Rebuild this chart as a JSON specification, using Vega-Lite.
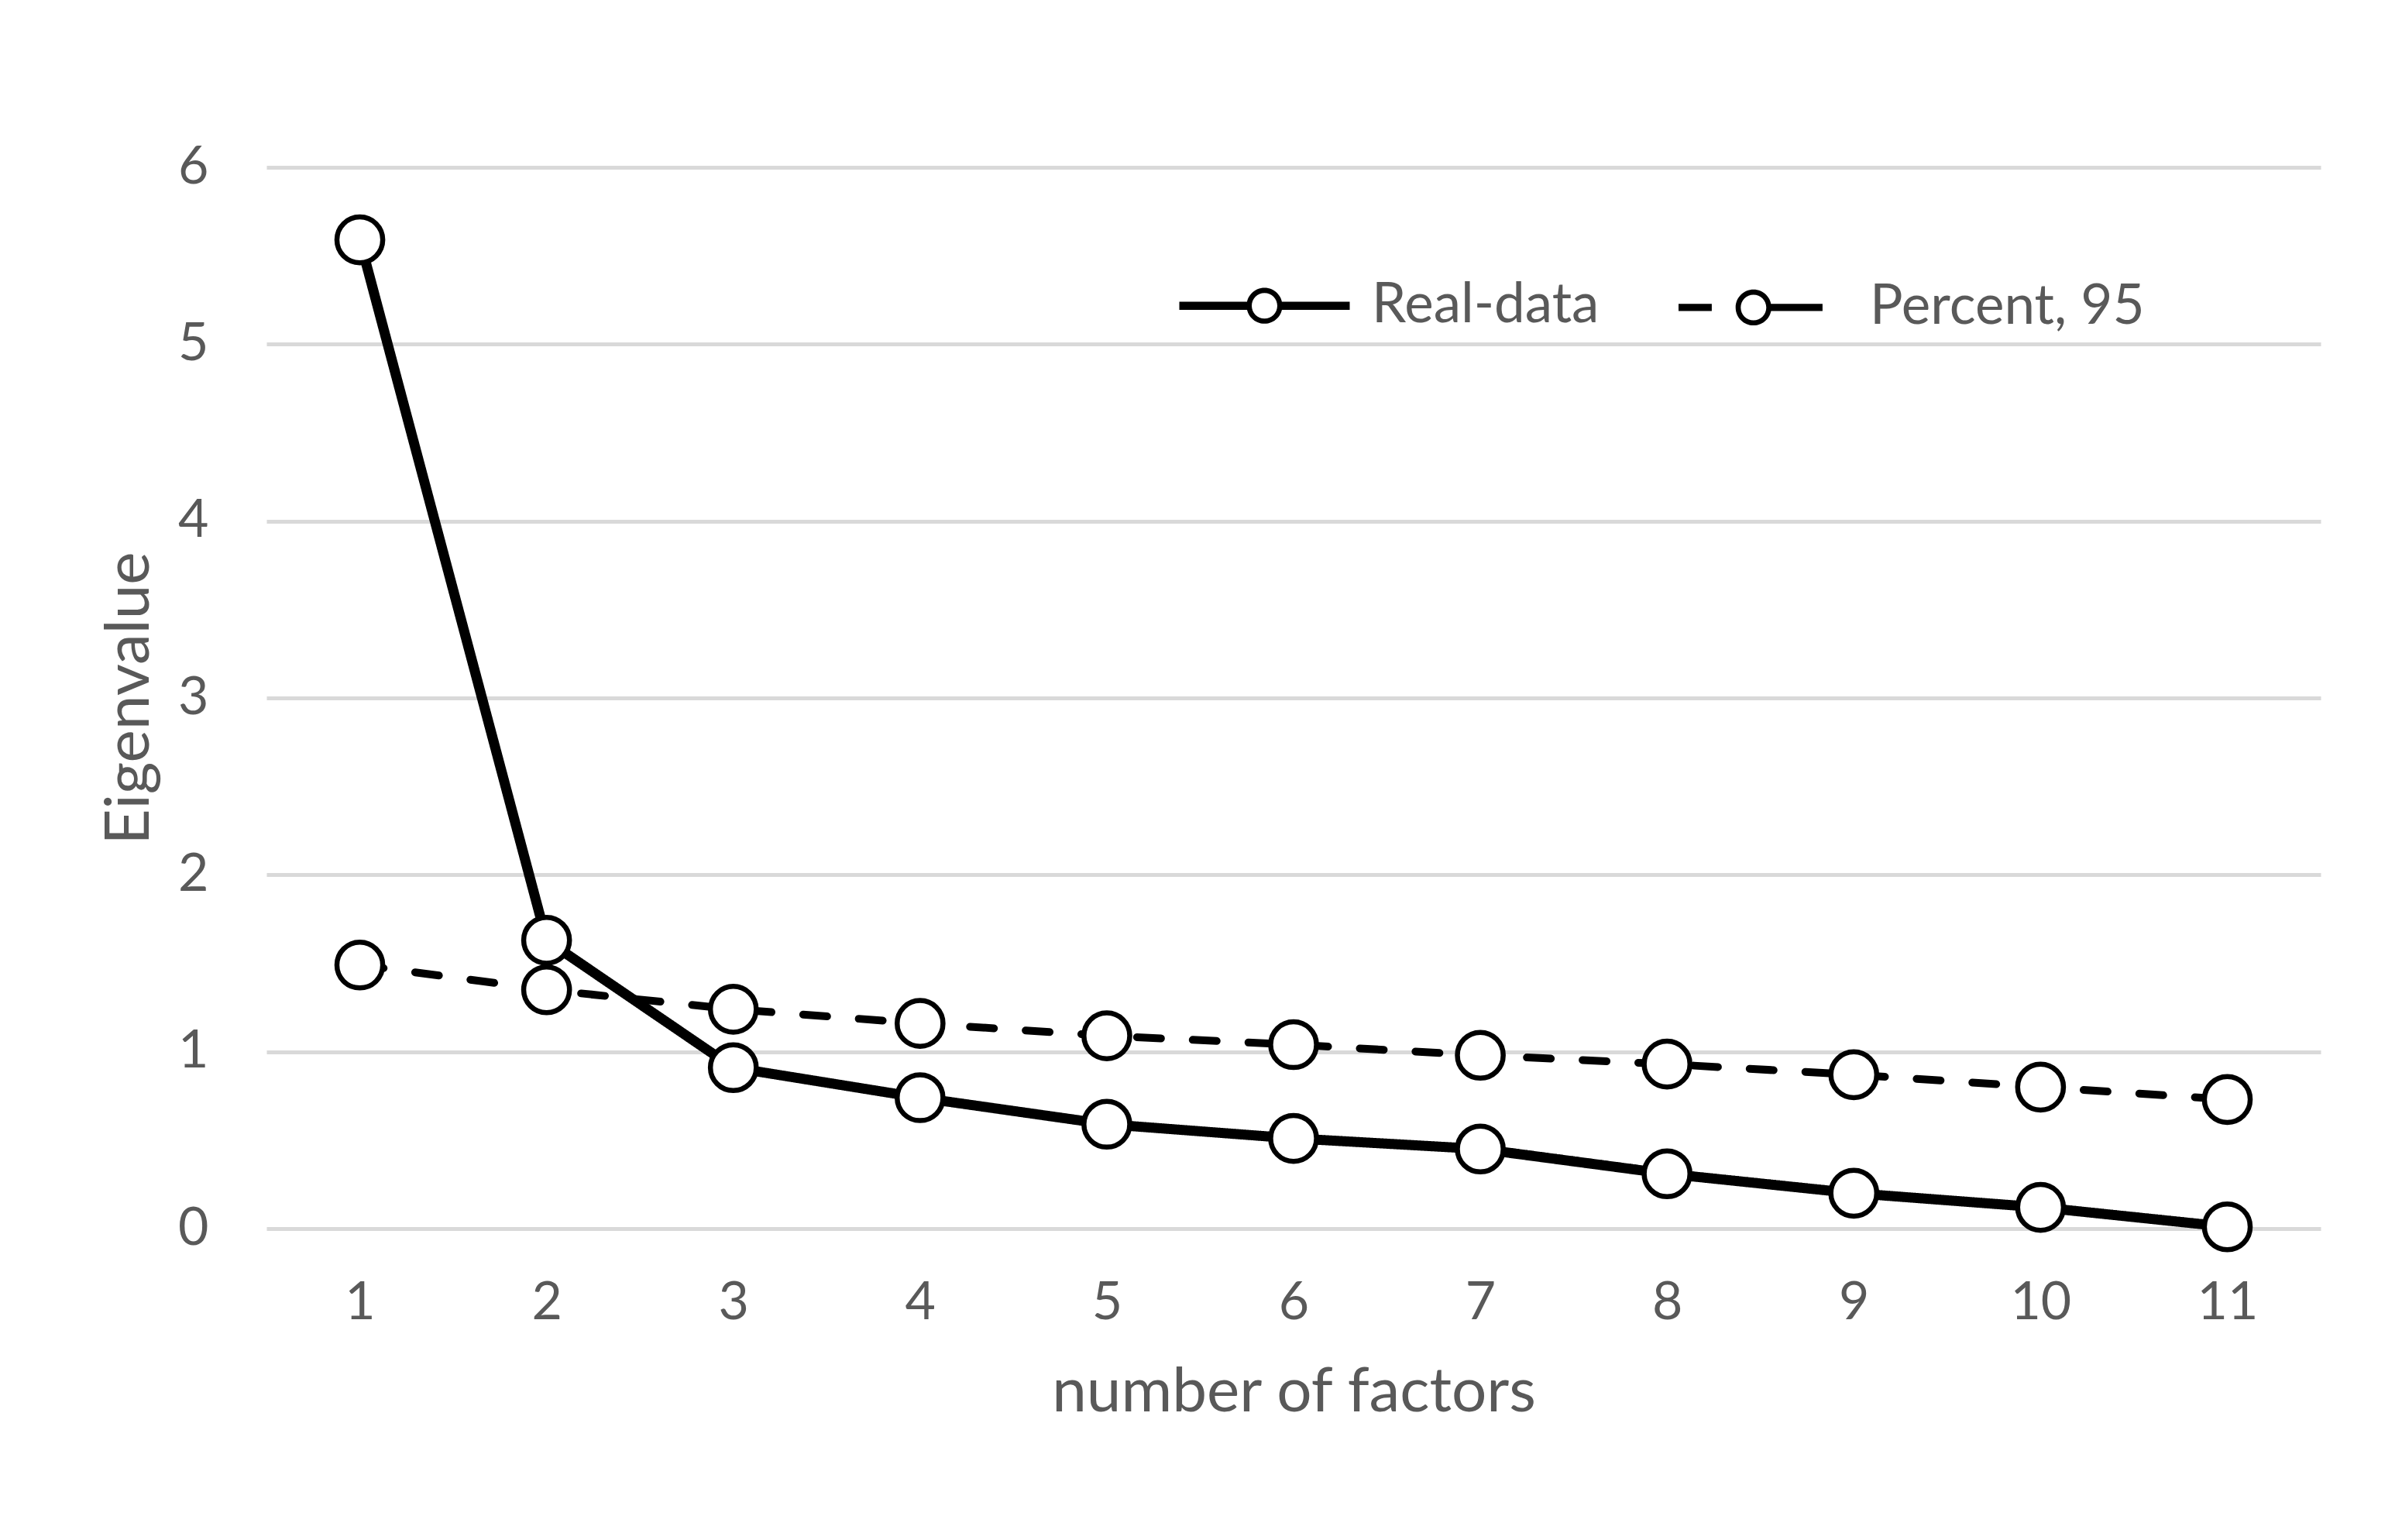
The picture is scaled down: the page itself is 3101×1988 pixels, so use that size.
{
  "$schema": "https://vega.github.io/schema/vega-lite/v6.json",
  "width": 2652,
  "height": 1370,
  "autosize": {"type": "none"},
  "padding": {"left": 344, "top": 216, "right": 105, "bottom": 402},
  "background": "white",
  "config": {
    "view": {"stroke": null},
    "font": "Lato",
    "axis": {"labelFont": "Lato", "titleFont": "Lato", "labelColor": "#595959", "titleColor": "#595959", "titleFontWeight": "normal"},
    "legend": {"labelFont": "Lato", "labelColor": "#595959"}
  },
  "data": {
    "values": [
      {"factor": 1, "series": "Percent, 95", "value": 1.49},
      {"factor": 2, "series": "Percent, 95", "value": 1.35},
      {"factor": 3, "series": "Percent, 95", "value": 1.24},
      {"factor": 4, "series": "Percent, 95", "value": 1.16},
      {"factor": 5, "series": "Percent, 95", "value": 1.09},
      {"factor": 6, "series": "Percent, 95", "value": 1.04},
      {"factor": 7, "series": "Percent, 95", "value": 0.98},
      {"factor": 8, "series": "Percent, 95", "value": 0.93},
      {"factor": 9, "series": "Percent, 95", "value": 0.87},
      {"factor": 10, "series": "Percent, 95", "value": 0.80},
      {"factor": 11, "series": "Percent, 95", "value": 0.73},
      {"factor": 1, "series": "Real-data", "value": 5.59},
      {"factor": 2, "series": "Real-data", "value": 1.63},
      {"factor": 3, "series": "Real-data", "value": 0.91},
      {"factor": 4, "series": "Real-data", "value": 0.74},
      {"factor": 5, "series": "Real-data", "value": 0.59},
      {"factor": 6, "series": "Real-data", "value": 0.51},
      {"factor": 7, "series": "Real-data", "value": 0.45},
      {"factor": 8, "series": "Real-data", "value": 0.31},
      {"factor": 9, "series": "Real-data", "value": 0.20},
      {"factor": 10, "series": "Real-data", "value": 0.12},
      {"factor": 11, "series": "Real-data", "value": 0.01}
    ]
  },
  "encoding": {
    "x": {
      "field": "factor", "type": "ordinal",
      "scale": {"type": "point", "padding": 0.5},
      "axis": {"title": "number of factors", "labelAngle": 0, "domain": false, "ticks": false, "grid": false,
               "labelFontSize": 68, "labelPadding": 62, "titleFontSize": 80, "titlePadding": 42}
    },
    "y": {
      "field": "value", "type": "quantitative",
      "scale": {"domain": [0, 6], "nice": false, "zero": true},
      "axis": {"title": "Eigenvalue", "values": [0, 1, 2, 3, 4, 5, 6], "domain": false, "ticks": false, "grid": true,
               "gridColor": "#d9d9d9", "gridWidth": 5, "labelFontSize": 68, "labelPadding": 75,
               "titleFontSize": 80, "titlePadding": 21}
    }
  },
  "layer": [
    {
      "mark": {"type": "point", "filled": true, "color": "black", "strokeWidth": 0, "opacity": 0},
      "encoding": {
        "shape": {
          "field": "series", "type": "nominal",
          "scale": {
            "domain": ["Real-data", "Percent, 95"],
            "range": [
              "M-1,-0.048L-0.18,-0.048L-0.18,0.048L-1,0.048Z M0.18,-0.048L1,-0.048L1,0.048L0.18,0.048Z M0.21,0A0.21,0.21 0 1,1 -0.21,0A0.21,0.21 0 1,1 0.21,0Z M0.15,0A0.15,0.15 0 1,0 -0.15,0A0.15,0.15 0 1,0 0.15,0Z",
              "M-1,-0.042L-0.61,-0.042L-0.61,0.042L-1,0.042Z M0.06,-0.042L0.69,-0.042L0.69,0.042L0.06,0.042Z M0.09,0A0.21,0.21 0 1,1 -0.33,0A0.21,0.21 0 1,1 0.09,0Z M0.03,0A0.15,0.15 0 1,0 -0.27,0A0.15,0.15 0 1,0 0.03,0Z"
            ]
          },
          "legend": {
            "title": null, "orient": "none", "direction": "horizontal",
            "legendX": 1172, "legendY": 62, "padding": 0,
            "symbolSize": 48400, "symbolFillColor": "black", "symbolStrokeWidth": 0, "symbolOpacity": 1,
            "labelFontSize": 71, "labelOffset": 22, "columnPadding": 82, "labelLimit": 1000
          }
        }
      }
    },
    {
      "mark": {"type": "line", "color": "black", "strokeCap": "round", "strokeJoin": "round"},
      "encoding": {
        "detail": {"field": "series", "type": "nominal"},
        "strokeDash": {"field": "series", "type": "nominal",
          "scale": {"domain": ["Real-data", "Percent, 95"], "range": [[1, 0], [31, 41]]}, "legend": null},
        "strokeWidth": {"field": "series", "type": "nominal",
          "scale": {"domain": ["Real-data", "Percent, 95"], "range": [13, 10]}, "legend": null}
      }
    },
    {
      "mark": {"type": "point", "shape": "circle", "filled": true, "fill": "white", "stroke": "black", "strokeWidth": 6.5, "size": 3500, "opacity": 1}
    }
  ]
}
